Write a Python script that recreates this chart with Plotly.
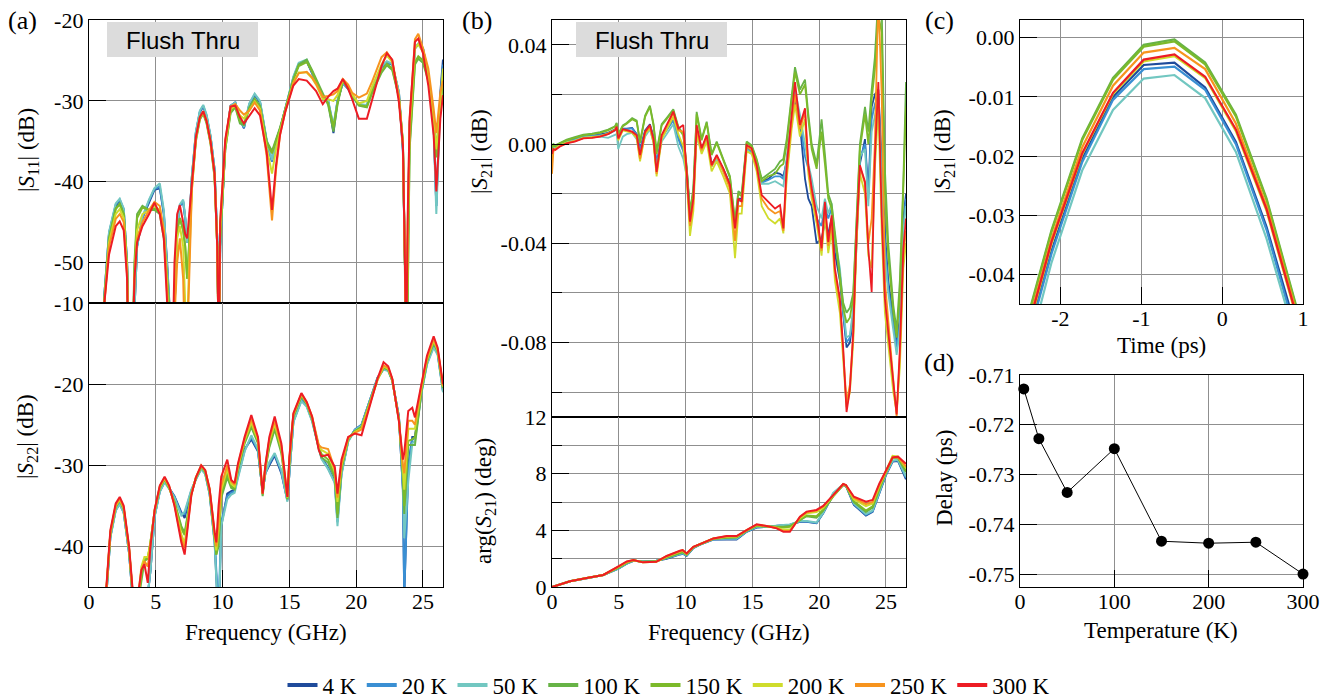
import plotly.graph_objects as go

W, H = 1337, 698
SERIF = "Liberation Serif"
SANS = "Liberation Sans"

temps = ["4 K", "20 K", "50 K", "100 K", "150 K", "200 K", "250 K", "300 K"]
colors = ["#1f4b9b", "#3a8fd3", "#72c7c1", "#67b346", "#7cba2a", "#cfdc2c", "#f7941e", "#ed1c24"]

# ---------------- (a) |S11| ----------------
f11 = [1.0, 1.15, 1.5, 2.0, 2.3, 2.6, 2.85, 2.95, 3.25, 3.4,
       3.6, 4.0, 4.5, 4.9, 5.3, 5.6, 5.85, 5.95, 6.25, 6.4,
       6.6, 6.8, 7.05, 7.2, 7.35, 7.5, 7.7, 8.0, 8.3, 8.55,
       8.8, 9.1, 9.4, 9.6, 9.72, 9.82, 10.2, 10.6, 10.95, 11.3,
       11.6, 12.0, 12.4, 12.8, 13.3, 13.7, 14.0, 14.3, 14.7, 15.3,
       15.7, 16.3, 16.7, 17.0, 17.5, 17.9, 18.3, 18.6, 19.0, 19.4,
       19.7, 20.2, 20.8, 21.2, 21.9, 22.3, 22.7, 23.2, 23.5, 23.65,
       23.75, 23.85, 24.0, 24.4, 24.65, 25.0, 25.4, 25.8, 26.0, 26.3,
       26.5]
s11_4k = [-62, -54, -46.5, -43, -42.3, -43.5, -50, -58, -62, -55,
          -48, -44.5, -42.5, -41, -40.8, -44, -50, -53, -62, -56,
          -46, -43, -42.5, -44.5, -47.5, -45.5, -39.5, -34, -31.4, -30.7,
          -31.9, -34.5, -38.5, -47, -62, -48, -35.5, -30.6, -30.2, -32.3,
          -33.4, -30.5, -29.3, -30.2, -35, -37.5, -35, -33.5, -31, -27.2,
          -25.5, -25.1, -26.6, -27.7, -29.6, -30, -34, -30, -27.8, -28.5,
          -29.5, -30.5, -30.6, -28.5, -25.8, -25.3, -25.5, -29, -36.3, -50,
          -62, -50, -33, -23.5, -23, -23.5, -27, -33, -43, -29, -24.9]
s11_20k = [-62, -54, -46.3, -42.8, -42.2, -43.4, -50, -58, -62, -55,
           -48, -44.5, -42.3, -40.9, -40.6, -43.8, -50, -53, -62, -56,
           -46, -43, -42.4, -44.5, -47.5, -45.5, -39.4, -33.9, -31.3, -30.6,
           -31.8, -34.4, -38.5, -47, -62, -48, -35.5, -30.6, -30.2, -32.3,
           -33.3, -30.4, -29.2, -30.1, -35, -37.5, -35, -33.5, -31, -27.1,
           -25.4, -25, -26.5, -27.6, -29.5, -30, -33.2, -30, -27.8, -28.5,
           -29.4, -30.5, -30.6, -28.5, -25.8, -25.2, -25.5, -29, -36, -50,
           -62, -50, -33, -23.5, -23, -23.5, -27, -33, -43, -29.5, -25.5]
s11_50k = [-62, -54, -46.2, -42.7, -42.1, -43.3, -50, -58, -62, -55,
           -48, -44.3, -42.2, -40.8, -40.2, -43.5, -50, -53, -62, -56,
           -46, -42.8, -42.2, -44.3, -47.5, -45.5, -39.3, -33.8, -31.2, -30.5,
           -31.7, -34.3, -38.5, -47, -62, -48, -35.5, -30.6, -30.2, -32.3,
           -33.2, -30.3, -29.1, -30, -34.8, -37.3, -35, -33.5, -31, -27,
           -25.3, -24.9, -26.4, -27.5, -29.4, -30, -33, -30, -27.7, -28.4,
           -29.4, -30.4, -30.5, -28.4, -25.7, -25.1, -25.4, -28.9, -35.5, -50,
           -62, -50, -33, -23.4, -22.9, -23.4, -26.9, -33.5, -44, -30.5, -27]
s11_100k = [-62, -54.5, -47, -43.3, -42.7, -44, -50.5, -58, -62, -50,
            -44, -43, -43.5, -43.5, -44, -47, -52, -56, -62, -54,
            -46, -44.5, -46, -48, -52, -48, -40.5, -35, -32.3, -31.6,
            -32.8, -35.3, -39.5, -48, -62, -47, -36, -31.5, -30.8, -32.8,
            -33, -30.8, -29.7, -30.6, -35, -36.2, -34.8, -33.3, -31, -27.3,
            -25.5, -24.9, -26.2, -27.3, -29.2, -30.5, -33.8, -30.5, -27.5, -28.4,
            -29.3, -30.6, -30.8, -29, -26.5, -25.6, -26.2, -29.6, -35, -50,
            -62, -56, -36, -25.5, -24.8, -25.3, -27.5, -32, -36, -31, -27]
s11_150k = [-62, -54.5, -47, -43.4, -42.8, -44, -50.5, -58, -62, -51,
            -44.5, -43.2, -43.5, -43.3, -43.8, -46.5, -52, -56, -62, -54,
            -46, -44.5, -46, -48, -52, -47.5, -40.3, -34.8, -32.2, -31.5,
            -32.6, -35.2, -39.3, -48, -62, -47, -36, -31.3, -30.7, -32.5,
            -32.8, -31, -29.9, -30.8, -35.2, -36.5, -35, -33.5, -31, -27.4,
            -25.7, -25.2, -26.4, -27.5, -29.4, -30.3, -33.2, -30.3, -27.5, -28.4,
            -29.3, -30.5, -30.7, -28.8, -26.3, -25.4, -26, -29.5, -35.2, -50,
            -62, -55, -35.5, -25.2, -24.5, -25, -27.3, -32, -37, -31, -27]
s11_200k = [-62, -55, -47.5, -44, -43.4, -44.5, -51, -60, -62, -52,
            -46, -44, -43.5, -43, -43.5, -46, -53, -58, -62, -55,
            -47, -45.5, -48, -55, -58, -50, -41, -34.8, -32.1, -31.4,
            -32.5, -35.1, -39.2, -48, -62, -46, -35.5, -31, -30.6, -31.8,
            -32.2, -31.2, -30.1, -31, -35.8, -39, -36, -33.8, -31.2, -27.8,
            -26.5, -26.5, -27.2, -28, -29.8, -29.8, -30, -29.3, -27.4, -28.3,
            -29.2, -30.3, -30, -28.2, -25.5, -24.4, -25.2, -29.6, -35.3, -50,
            -62, -50, -33.5, -23.5, -23, -24, -27, -32.5, -36, -30.5, -26]
s11_250k = [-62, -55, -48, -44.6, -44, -45, -51.5, -62, -62, -52,
            -47, -45, -43.5, -42.5, -43, -46, -54, -60, -62, -56,
            -50, -47, -52, -62, -60, -52, -41, -34.6, -32, -31.3,
            -32.5, -35, -39, -48, -62, -45, -35, -30.7, -30.4, -31.2,
            -31.7, -31.2, -30.2, -31.2, -36.8, -44.8, -38.5, -34.2, -31.3, -27.8,
            -26.6, -26.4, -27.1, -27.9, -29.5, -29.4, -29.2, -28.8, -27.3, -28,
            -29, -29.6, -29.1, -27.6, -24.6, -24, -25, -29.5, -35.4, -50,
            -62, -47, -32.5, -22.4, -21.7, -23.5, -26, -31, -34, -29, -27.5]
s11_300k = [-62, -55, -49, -45.5, -44.9, -46, -52, -62, -62, -52,
            -47.5, -45.5, -44, -42.6, -44, -47, -55, -62, -62, -50,
            -44, -42.9, -45, -46.5, -47, -44, -39.8, -34.5, -32, -31.3,
            -32.5, -35, -39, -48, -62, -45, -34.8, -30.7, -30.6, -32,
            -32.8, -31.8, -30.9, -31.8, -36.3, -43.5, -38, -34.2, -31.3, -28.1,
            -27.3, -27.5, -28.2, -28.8, -30.4, -29.5, -28.8, -28.5, -27.3, -28.5,
            -29.8, -32.2, -32.2, -29.8, -25.7, -24.1, -24.9, -30.2, -35.5, -50,
            -62, -45, -32.2, -22.7, -22.3, -24.1, -28.1, -34.2, -41.2, -32.2, -29.3]

# ---------------- (a) |S22| ----------------
f22 = [1.2, 1.3, 1.6, 2.0, 2.3, 2.6, 3.0, 3.3, 3.67, 3.92,
       4.15, 4.4, 4.6, 4.92, 5.3, 5.66, 6.0, 6.4, 6.91, 7.16,
       7.4, 7.66, 8.0, 8.4, 8.7, 9.03, 9.41, 9.53, 9.7, 9.9,
       10.35, 10.65, 10.9, 11.15, 11.65, 12.15, 12.65, 13.0, 13.2, 13.5,
       13.9, 14.4, 14.85, 15.0, 15.3, 15.9, 16.3, 16.7, 17.2, 17.4,
       17.9, 18.4, 18.6, 18.9, 19.4, 19.9, 20.4, 20.8, 21.2, 21.6,
       22.05, 22.4, 22.7, 23.2, 23.5, 23.6, 23.9, 24.2, 24.4, 24.9,
       25.3, 25.8, 26.1, 26.5]
s22_4k = [-50, -46, -38.8, -35.5, -34.7, -35.8, -40.8, -47, -50, -50,
          -48, -46, -43, -36.2, -33.2, -32, -32.8, -33.8, -35.8, -36.5,
          -34.8, -33.2, -31.7, -30.4, -31, -33.5, -39.5, -43, -50, -37.5,
          -33.5, -33.2, -33, -31.2, -28, -26.8, -28.3, -33.3, -31, -30,
          -28.8, -31, -34.3, -31, -24.6, -21.9, -22.6, -24.4, -27.8, -29,
          -30.3, -32, -36.8, -31, -27, -25.6, -25, -23, -21, -19.2,
          -18.1, -18.3, -19.5, -24, -33, -46, -30, -26.5, -26.5, -20.8,
          -17.4, -15.3, -16.2, -20.8]
s22_20k = [-50, -46, -38.8, -35.5, -34.7, -35.8, -40.8, -47, -50, -50,
           -48, -46, -43, -36.2, -33.2, -32, -32.8, -33.9, -36, -36,
           -34.6, -33.1, -31.7, -30.4, -31, -33.5, -39.5, -43, -48, -37,
           -33.8, -33.4, -33.2, -31.4, -28.2, -26.5, -28.2, -33.3, -31, -29.8,
           -28.6, -30.8, -34.3, -31, -24.6, -22, -22.7, -24.5, -27.9, -29.1,
           -30.4, -32.1, -37, -31, -27, -25.6, -25, -23, -21, -19.2,
           -18.1, -18.3, -19.5, -24, -33, -46, -30.5, -26.8, -26.8, -20.9,
           -17.5, -15.3, -16.2, -20.9]
s22_50k = [-50, -46, -38.9, -35.6, -34.8, -35.9, -40.9, -47, -50, -50,
           -48, -46, -43, -36.3, -33.3, -32.1, -32.9, -34, -36.2, -35.7,
           -34.4, -33, -31.8, -30.5, -31.1, -33.6, -39.8, -44, -50, -37.5,
           -34.2, -33.6, -33.4, -31.6, -28.3, -26.3, -28, -33.2, -31, -29.6,
           -28.5, -30.6, -34.5, -31, -24.7, -22.1, -22.8, -24.6, -28, -29.2,
           -30.5, -32.2, -37.5, -31.2, -27.1, -25.7, -25.1, -23.1, -21.1, -19.3,
           -18.2, -18.4, -19.6, -24.2, -32, -39, -32, -27.3, -27, -21,
           -17.6, -15.5, -16.4, -21]
s22_100k = [-50, -45.5, -38.4, -35.1, -34.3, -35.4, -40.4, -46.5, -47, -44,
            -41.8, -41.5, -39.5, -35.6, -32.8, -31.7, -32.8, -34.5, -37.5, -38.3,
            -36, -33.5, -31.6, -30.2, -30.8, -33.2, -39, -41, -40, -34,
            -31.5, -32.8, -33, -30.6, -27.3, -25.3, -27.3, -33.8, -30.5, -27.8,
            -25.6, -28.5, -34.2, -29.8, -24, -21.5, -22.4, -24.3, -28, -29,
            -29.7, -31.5, -36.5, -30.5, -26.8, -25.8, -25.3, -23.3, -21.2, -19.4,
            -18, -18.2, -19.5, -24.3, -31.5, -36, -27.5, -27.5, -27.5, -20.8,
            -17.2, -14.9, -16, -20.5]
s22_150k = [-50, -45.5, -38.4, -35.1, -34.3, -35.4, -40.4, -46.5, -47, -43.5,
            -41.6, -41.5, -39.5, -35.6, -32.8, -31.7, -32.8, -34.6, -37.8, -38.6,
            -36.2, -33.5, -31.6, -30.2, -30.8, -33.2, -39, -41, -39, -33.5,
            -31, -32.6, -32.8, -30.4, -27.1, -25, -27.1, -33.6, -30.3, -27.5,
            -25.2, -28.2, -34.1, -29.6, -23.9, -21.4, -22.4, -24.2, -27.8, -28.6,
            -29.3, -31.2, -36, -30.3, -26.8, -25.8, -25.3, -23.4, -21.3, -19.4,
            -17.9, -18.2, -19.5, -24.3, -31, -35, -27, -26.8, -26.5, -20.6,
            -17.1, -14.8, -15.9, -20.4]
s22_200k = [-50, -45.3, -38.3, -35, -34.2, -35.3, -40.3, -46.5, -46.5, -42.5,
            -41.3, -41.3, -39.5, -35.5, -32.7, -31.6, -32.7, -34.8, -38.5, -39.6,
            -36.8, -33.6, -31.5, -30.1, -30.7, -33, -38.7, -40.5, -38, -33,
            -30.5, -32.3, -32.6, -30.2, -26.9, -24.7, -26.9, -33.5, -30.2, -27,
            -24.9, -27.9, -34, -29.4, -23.8, -21.3, -22.3, -24.1, -27.7, -28.1,
            -28.6, -30.8, -34.5, -30, -26.7, -25.9, -25.5, -23.5, -21.4, -19.5,
            -17.8, -18.1, -19.4, -24.4, -30.5, -33, -25.5, -25.5, -25.5, -20.3,
            -17, -14.6, -15.8, -20.3]
s22_250k = [-50, -45.2, -38.2, -34.9, -34.1, -35.2, -40.2, -46.3, -46.5, -43,
            -41.8, -42.5, -39.8, -35.5, -32.6, -31.5, -32.6, -34.9, -39, -40.2,
            -37.2, -33.6, -31.5, -30, -30.6, -32.9, -38.5, -40, -37, -32.5,
            -30, -32, -32.4, -30, -26.7, -24.3, -26.7, -33.5, -30.1, -26.8,
            -24.5, -27.6, -33.9, -29.2, -23.7, -21.2, -22.3, -24, -27.5, -27.8,
            -28, -30.5, -34, -29.8, -26.6, -26, -25.6, -23.7, -21.5, -19.4,
            -17.7, -18, -19.4, -24.5, -30, -31, -24.5, -24.5, -25, -20,
            -16.8, -14.4, -15.7, -20.2]
s22_300k = [-50, -45, -38, -34.7, -33.9, -35, -40, -46, -46, -42.9,
            -42.2, -44.5, -40, -35.4, -32.5, -31.4, -32.5, -35, -39.5, -41,
            -37.5, -33.7, -31.5, -30, -30.6, -32.9, -38.3, -39.5, -35, -31.4,
            -29.3, -31.8, -32.2, -29.8, -26.5, -23.8, -26.5, -33.5, -30, -26.5,
            -24, -27.3, -33.9, -29, -23.6, -21.1, -22.2, -24, -28.1, -28.9,
            -28.7, -30.2, -33.5, -29.3, -26.5, -26.1, -26.3, -24, -21.6, -19.3,
            -17.3, -17.8, -19.3, -24.6, -29.3, -28.5, -23.3, -22.9, -24.1, -19.6,
            -16.5, -14.1, -15.5, -20]

# ---------------- (b) |S21| ----------------
f21 = [0.0, 0.1, 0.25, 0.6, 1.1, 1.7, 2.35, 3.0, 3.6, 4.2,
       4.72, 4.84, 4.96, 5.3, 5.59, 6.0, 6.34, 6.59, 6.97, 7.33,
       7.6, 7.83, 8.21, 8.58, 9.08, 9.46, 9.83, 10.08, 10.33, 10.58,
       10.83, 11.2, 11.58, 11.95, 12.33, 12.82, 13.32, 13.7, 13.95, 14.2,
       14.57, 14.95, 15.32, 15.7, 16.2, 16.7, 17.07, 17.32, 17.57, 17.94,
       18.19, 18.56, 18.94, 19.19, 19.44, 19.81, 20.18, 20.43, 20.68, 20.93,
       21.18, 21.55, 21.8, 22.05, 22.3, 22.55, 22.8, 23.05, 23.43, 23.68,
       23.93, 24.17, 24.43, 24.68, 24.92, 25.17, 25.55, 25.8, 26.04, 26.3,
       26.5]
s21_4k = [-0.002, -0.0005, -0.001, 0.0, 0.0012, 0.002, 0.003, 0.0033, 0.0038, 0.0045,
          0.006, 0.0065, 0.003, 0.0062, 0.0062, 0.0065, 0.004, -0.002, 0.0055, 0.008,
          0.003, -0.008, 0.003, 0.006, 0.01, 0.003, -0.002, -0.01, -0.028, -0.02,
          0.005, -0.002, 0.003, -0.008, -0.005, -0.01, -0.016, -0.033, -0.022, -0.022,
          -0.001, -0.003, -0.007, -0.015, -0.014, -0.0115, -0.012, -0.013, -0.007, 0.008,
          0.018, 0.008, -0.014, -0.022, -0.025, -0.04, -0.038, -0.032, -0.036, -0.03,
          -0.044, -0.055, -0.07, -0.082, -0.08, -0.07, -0.04, -0.008, 0.002, -0.02,
          0.015, 0.02, 0.022, -0.01, -0.035, -0.055, -0.07, -0.08, -0.07, -0.03,
          -0.02]
s21_20k = [-0.002, -0.0005, -0.001, 0.0, 0.0012, 0.002, 0.003, 0.0033, 0.0036, 0.004,
           0.0055, 0.006, 0.0025, 0.006, 0.006, 0.0063, 0.0038, -0.0025, 0.005, 0.0075,
           0.0025, -0.008, 0.0025, 0.0055, 0.0095, 0.002, -0.003, -0.011, -0.029, -0.021,
           0.0045, -0.0025, 0.0025, -0.0085, -0.0055, -0.0105, -0.0165, -0.0335, -0.0225, -0.0225,
           -0.0015, -0.0035, -0.0075, -0.0155, -0.0145, -0.013, -0.013, -0.014, -0.0065, 0.009,
           0.02, 0.01, -0.005, -0.01, -0.016, -0.03, -0.033, -0.025, -0.03, -0.026,
           -0.04, -0.052, -0.068, -0.08, -0.078, -0.068, -0.038, -0.006, 0.0, -0.022,
           0.01, 0.016, 0.02, -0.012, -0.04, -0.058, -0.072, -0.082, -0.072, -0.032,
           -0.022]
s21_50k = [-0.003, -0.001, -0.0015, -0.0005, 0.0008, 0.0015, 0.0027, 0.003, 0.003, 0.0025,
           0.0035, 0.004, -0.002, 0.003, 0.004, 0.0045, 0.002, -0.004, 0.003, 0.006,
           0.0005, -0.01, 0.001, 0.004, 0.008, -0.001, -0.006, -0.013, -0.03, -0.022,
           0.003, -0.003, 0.002, -0.009, -0.006, -0.011, -0.017, -0.034, -0.023, -0.023,
           -0.002, -0.004, -0.008, -0.016, -0.016, -0.015, -0.016, -0.017, -0.006, 0.012,
           0.022, 0.012, 0.0, -0.008, -0.014, -0.025, -0.03, -0.022, -0.028, -0.024,
           -0.038, -0.05, -0.066, -0.078, -0.077, -0.066, -0.036, -0.005, -0.002, -0.025,
           0.005, 0.012, 0.018, -0.015, -0.045, -0.06, -0.075, -0.085, -0.075, -0.035,
           -0.025]
s21_100k = [-0.001, 0.0, -0.0005, 0.0005, 0.0018, 0.0028, 0.0038, 0.0042, 0.0048, 0.0058,
            0.0072, 0.0085, 0.004, 0.0075, 0.0085, 0.0105, 0.0095, 0.001, 0.0115, 0.0155,
            0.008, -0.003, 0.008, 0.0105, 0.014, 0.007, 0.004, -0.009, -0.027, -0.018,
            0.013, 0.002, 0.009, -0.004, 0.001, -0.006, -0.013, -0.031, -0.019, -0.02,
            0.001, -0.0005, -0.006, -0.014, -0.012, -0.01, -0.007, -0.006, 0.002, 0.02,
            0.031, 0.022, 0.026, 0.012, 0.0, -0.008, 0.01, -0.004, -0.02, -0.024,
            -0.036, -0.052, -0.064, -0.068, -0.066, -0.06, -0.028, 0.0, 0.015, 0.005,
            0.022, 0.035, 0.06, 0.055, -0.01, -0.04, -0.065, -0.075, -0.055, -0.015,
            0.025]
s21_150k = [-0.002, -0.0005, -0.001, 0.0003, 0.0015, 0.0025, 0.0035, 0.004, 0.0045, 0.0055,
            0.007, 0.0082, 0.0038, 0.0072, 0.0082, 0.01, 0.009, 0.0005, 0.011, 0.015,
            0.0075, -0.004, 0.0075, 0.01, 0.0135, 0.0065, 0.0035, -0.0095, -0.028, -0.019,
            0.012, 0.0015, 0.0085, -0.0045, 0.0005, -0.0065, -0.0135, -0.032, -0.02, -0.021,
            0.0005, -0.001, -0.0065, -0.015, -0.013, -0.012, -0.009, -0.008, 0.0, 0.018,
            0.029, 0.02, 0.024, 0.01, -0.002, -0.01, 0.005, -0.008, -0.022, -0.026,
            -0.038, -0.054, -0.066, -0.072, -0.07, -0.062, -0.03, -0.002, 0.012, 0.0,
            0.018, 0.03, 0.052, 0.045, -0.02, -0.045, -0.068, -0.078, -0.06, -0.02,
            0.015]
s21_200k = [-0.006, -0.002, -0.002, -0.0005, 0.0006, 0.0013, 0.0025, 0.0028, 0.0032, 0.0042,
            0.0058, 0.0068, 0.0015, 0.0055, 0.0052, 0.0045, 0.0025, -0.007, 0.004, 0.0065,
            0.0005, -0.013, 0.002, 0.006, 0.011, 0.004, -0.001, -0.014, -0.037, -0.027,
            0.004, -0.004, 0.001, -0.011, -0.007, -0.013, -0.02, -0.046, -0.028, -0.028,
            -0.003, -0.004, -0.011, -0.025, -0.03, -0.032, -0.03, -0.036, -0.014, 0.006,
            0.016, 0.003, 0.01, -0.012, -0.022, -0.032, -0.045, -0.028, -0.044, -0.035,
            -0.055, -0.068, -0.088, -0.106, -0.1, -0.08, -0.04, -0.012, -0.02, -0.045,
            -0.05, -0.01, 0.015, -0.035, -0.068, -0.08, -0.1, -0.108, -0.09, -0.05,
            -0.04]
s21_250k = [-0.012, -0.003, -0.002, -0.0008, 0.0004, 0.0012, 0.0024, 0.0026, 0.0031, 0.0041,
            0.0057, 0.0068, 0.002, 0.0058, 0.0055, 0.0048, 0.003, -0.006, 0.0045, 0.007,
            0.0012, -0.012, 0.003, 0.007, 0.0125, 0.0055, 0.005, -0.012, -0.033, -0.024,
            0.006, -0.0025, 0.003, -0.009, -0.005, -0.011, -0.018, -0.039, -0.025, -0.025,
            -0.001, -0.0025, -0.0095, -0.022, -0.026, -0.028, -0.027, -0.035, -0.012, 0.009,
            0.02, 0.006, 0.013, -0.01, -0.02, -0.03, -0.043, -0.025, -0.041, -0.031,
            -0.052, -0.064, -0.085, -0.104, -0.097, -0.077, -0.037, -0.009, -0.016, -0.04,
            -0.03, 0.0, 0.06, 0.02, -0.055, -0.072, -0.095, -0.11, -0.085, -0.045,
            -0.035]
s21_300k = [-0.004, -0.002, -0.0024, -0.001, 0.0003, 0.001, 0.0023, 0.0025, 0.003, 0.004,
            0.0056, 0.007, 0.0023, 0.006, 0.0056, 0.005, 0.0036, -0.0044, 0.005, 0.0077,
            0.002, -0.0112, 0.0036, 0.0077, 0.0131, 0.0063, 0.0077, -0.0112, -0.0313, -0.022,
            0.0077, -0.0017, 0.0036, -0.0085, -0.0044, -0.0098, -0.0165, -0.034, -0.022, -0.0233,
            -0.0004, -0.0017, -0.0085, -0.0206, -0.0233, -0.026, -0.0246, -0.034, -0.0085, 0.0117,
            0.025, 0.0077, 0.0144, -0.0085, -0.0179, -0.0287, -0.042, -0.0233, -0.0394, -0.0287,
            -0.0502, -0.0623, -0.0825, -0.108, -0.099, -0.0758, -0.0354, -0.0085, -0.0152, -0.042,
            -0.0596, -0.0058, 0.025, -0.0287, -0.0623, -0.0758, -0.096, -0.109, -0.0825, -0.042,
            -0.03]

# ---------------- (b) arg(S21) ----------------
fph = [0.0, 1.35, 2.6, 3.84, 4.97, 5.6, 6.1, 6.8, 7.8, 8.58,
       9.58, 9.78, 10.08, 10.58, 11.08, 12.08, 13.07, 13.82, 14.57, 15.32,
       16.07, 16.82, 17.32, 17.81, 18.56, 19.06, 19.8, 20.3, 21.05, 21.8,
       22.0, 22.6, 23.5, 24.0, 24.5, 25.0, 25.5, 25.9, 26.5]
ph_4k = [0, 0.4, 0.62, 0.84, 1.3, 1.65, 1.85, 1.8, 1.85, 2.0,
         2.3, 2.35, 2.2, 2.75, 3.0, 3.35, 3.35, 3.35, 3.9, 4.2,
         4.25, 4.3, 4.35, 4.4, 4.6, 4.6, 4.5, 5.2, 6.55, 7.2,
         7.15, 5.8, 5.05, 5.3, 6.6, 7.9, 8.85, 8.9, 7.6]
ph_20k = [0, 0.4, 0.62, 0.84, 1.3, 1.66, 1.85, 1.8, 1.85, 2.02,
          2.32, 2.37, 2.22, 2.76, 3.0, 3.36, 3.38, 3.38, 3.92, 4.22,
          4.25, 4.3, 4.35, 4.4, 4.62, 4.62, 4.52, 5.22, 6.6, 7.22,
          7.17, 5.85, 5.1, 5.35, 6.65, 7.95, 8.9, 8.95, 7.7]
ph_50k = [0, 0.4, 0.62, 0.84, 1.32, 1.68, 1.86, 1.8, 1.84, 2.05,
          2.35, 2.4, 2.25, 2.78, 3.0, 3.38, 3.42, 3.42, 3.94, 4.25,
          4.26, 4.3, 4.38, 4.42, 4.65, 4.65, 4.55, 5.25, 6.65, 7.25,
          7.2, 5.9, 5.15, 5.4, 6.7, 8.0, 8.92, 8.98, 7.8]
ph_100k = [0, 0.4, 0.63, 0.85, 1.35, 1.7, 1.87, 1.78, 1.82, 2.08,
           2.4, 2.45, 2.28, 2.8, 3.02, 3.4, 3.48, 3.5, 3.96, 4.3,
           4.27, 4.25, 4.25, 4.3, 4.7, 5.0, 4.9, 5.4, 6.4, 7.2,
           7.15, 6.0, 5.3, 5.6, 6.9, 8.1, 9.1, 9.1, 8.1]
ph_150k = [0, 0.4, 0.63, 0.85, 1.38, 1.72, 1.88, 1.77, 1.81, 2.1,
           2.45, 2.5, 2.3, 2.8, 3.02, 3.4, 3.5, 3.52, 3.98, 4.33,
           4.28, 4.22, 4.2, 4.25, 4.75, 5.05, 5.0, 5.45, 6.42, 7.22,
           7.17, 6.05, 5.4, 5.7, 6.95, 8.12, 9.2, 9.15, 8.2]
ph_200k = [0, 0.4, 0.63, 0.85, 1.42, 1.76, 1.89, 1.75, 1.79, 2.15,
           2.5, 2.56, 2.34, 2.82, 3.03, 3.42, 3.55, 3.56, 4.0, 4.38,
           4.29, 4.18, 4.05, 4.05, 4.85, 5.2, 5.3, 5.6, 6.45, 7.25,
           7.18, 6.2, 5.7, 5.9, 7.1, 8.15, 9.25, 9.2, 8.4]
ph_250k = [0, 0.4, 0.63, 0.85, 1.44, 1.78, 1.9, 1.74, 1.78, 2.17,
           2.54, 2.6, 2.36, 2.83, 3.03, 3.43, 3.58, 3.58, 4.01, 4.4,
           4.3, 4.16, 3.95, 3.95, 4.92, 5.28, 5.4, 5.68, 6.47, 7.26,
           7.2, 6.3, 5.85, 6.0, 7.2, 8.18, 9.15, 9.15, 8.5]
ph_300k = [0.0, 0.4, 0.63, 0.85, 1.45, 1.8, 1.9, 1.74, 1.78, 2.19,
           2.56, 2.61, 2.37, 2.84, 3.03, 3.43, 3.6, 3.6, 4.02, 4.42,
           4.3, 4.14, 3.9, 3.9, 4.96, 5.32, 5.44, 5.72, 6.49, 7.27,
           7.2, 6.37, 6.02, 6.14, 7.3, 8.2, 9.15, 9.2, 8.7]

# ---------------- (c) time domain ----------------
t_ps = [-2.49, -2.11, -1.73, -1.35, -0.97, -0.59, -0.21, 0.17, 0.55, 0.93, 1.31]
td_4k = [-0.055, -0.036, -0.0205, -0.0100, -0.0046, -0.0042, -0.0084, -0.0176, -0.032, -0.050, -0.074]
td_20k = [-0.0555, -0.0365, -0.021, -0.0105, -0.0053, -0.0049, -0.0088, -0.018, -0.0325, -0.051, -0.075]
td_50k = [-0.058, -0.038, -0.0224, -0.0122, -0.0069, -0.0063, -0.0102, -0.0193, -0.034, -0.052, -0.076]
td_100k = [-0.0515, -0.0325, -0.0170, -0.0068, -0.0012, -0.0003, -0.0042, -0.0130, -0.0272, -0.0460, -0.070]
td_150k = [-0.0518, -0.0328, -0.0173, -0.0071, -0.0015, -0.0006, -0.0045, -0.0133, -0.0275, -0.0463, -0.0703]
td_200k = [-0.054, -0.0348, -0.0197, -0.0095, -0.0040, -0.0031, -0.0068, -0.0158, -0.0293, -0.0478, -0.072]
td_250k = [-0.053, -0.034, -0.0185, -0.0081, -0.0025, -0.0017, -0.0053, -0.0145, -0.0285, -0.047, -0.071]
td_300k = [-0.0535, -0.0345, -0.0195, -0.0093, -0.0037, -0.0028, -0.0066, -0.0155, -0.029, -0.0475, -0.0715]

# ---------------- (d) delay ----------------
temp_k = [4, 20, 50, 100, 150, 200, 250, 300]
delay_ps = [-0.7128, -0.7228, -0.7336, -0.7248, -0.7434, -0.7438, -0.7436, -0.7500]

s11_all = [s11_4k, s11_20k, s11_50k, s11_100k, s11_150k, s11_200k, s11_250k, s11_300k]
s22_all = [s22_4k, s22_20k, s22_50k, s22_100k, s22_150k, s22_200k, s22_250k, s22_300k]
s21_all = [s21_4k, s21_20k, s21_50k, s21_100k, s21_150k, s21_200k, s21_250k, s21_300k]
ph_all = [ph_4k, ph_20k, ph_50k, ph_100k, ph_150k, ph_200k, ph_250k, ph_300k]
td_all = [td_4k, td_20k, td_50k, td_100k, td_150k, td_200k, td_250k, td_300k]


def PX(x):
    return x / W


def PY(y):
    return 1 - y / H


fig = go.Figure()

for i in range(8):
    c = colors[i]
    fig.add_trace(go.Scatter(x=f11, y=s11_all[i], mode="lines", line=dict(color=c, width=2),
                             xaxis="x", yaxis="y", showlegend=False))
    fig.add_trace(go.Scatter(x=f22, y=s22_all[i], mode="lines", line=dict(color=c, width=2),
                             xaxis="x2", yaxis="y2", showlegend=False))
    fig.add_trace(go.Scatter(x=f21, y=s21_all[i], mode="lines", line=dict(color=c, width=1.8),
                             xaxis="x3", yaxis="y3", showlegend=False))
    fig.add_trace(go.Scatter(x=fph, y=ph_all[i], mode="lines", line=dict(color=c, width=2),
                             xaxis="x4", yaxis="y4", showlegend=False))
    fig.add_trace(go.Scatter(x=t_ps, y=td_all[i], mode="lines", line=dict(color=c, width=2.2),
                             xaxis="x5", yaxis="y5", showlegend=False))

fig.add_trace(go.Scatter(x=temp_k, y=delay_ps, mode="lines+markers",
                         line=dict(color="black", width=1),
                         marker=dict(color="black", size=11),
                         cliponaxis=False, xaxis="x6", yaxis="y6", showlegend=False))

# legend entries
for i in range(8):
    fig.add_trace(go.Scatter(x=[None], y=[None], mode="lines", name=temps[i],
                             line=dict(color=colors[i], width=4), xaxis="x5", yaxis="y5",
                             showlegend=True))

GRID = "#8f8f8f"
TICKFONT = dict(family=SERIF, size=22, color="black")


def axis(domain, rng, anchor, tickvals=None, ticktext=None, labels=True, ticklen=17,
         ticks="inside", minor_vals=None, is_x=False):
    d = dict(domain=domain, range=rng, anchor=anchor, automargin=False,
             showline=True, linecolor="black",
             linewidth=1.3, mirror=True, showgrid=True, gridcolor=GRID, gridwidth=1,
             zeroline=False, tickfont=TICKFONT, showticklabels=labels,
             ticks=ticks if labels else "", ticklen=ticklen, tickcolor="black", tickwidth=1.3)
    if is_x and labels:
        d["ticklabelstandoff"] = -6
    if tickvals is not None:
        d["tickmode"] = "array"
        d["tickvals"] = tickvals
        if ticktext is not None:
            d["ticktext"] = ticktext
    if minor_vals is not None:
        d["minor"] = dict(tickmode="array", tickvals=minor_vals, ticks="inside", ticklen=10,
                          tickcolor="black", tickwidth=1.3, showgrid=True, gridcolor=GRID,
                          gridwidth=1)
    return d


xa = [PX(89), PX(443)]
xb = [PX(552), PX(906)]
xc = [PX(1020), PX(1303)]
freq_ticks = [0, 5, 10, 15, 20, 25]

fig.update_layout(
    template="none",
    width=W, height=H, margin=dict(l=0, r=0, t=0, b=0, autoexpand=False),
    paper_bgcolor="white", plot_bgcolor="white",
    font=dict(family=SERIF, size=22, color="black"),
    xaxis=axis(xa, [0, 26.5], "y", freq_ticks, labels=False),
    yaxis=axis([PY(303), PY(20)], [-55, -20], "x", [-50, -40, -30, -20],
               ["-50", "-40", "-30", "-20"]),
    xaxis2=axis(xa, [0, 26.5], "y2", freq_ticks, [str(v) for v in freq_ticks], is_x=True),
    yaxis2=axis([PY(587), PY(303)], [-45, -10], "x2", [-40, -30, -20, -10],
                ["-40", "-30", "-20", "-10"]),
    xaxis3=axis(xb, [0, 26.5], "y3", freq_ticks, labels=False),
    yaxis3=axis([PY(417), PY(20)], [-0.11, 0.05], "x3", [-0.08, -0.04, 0.0, 0.04],
                ["-0.08", "-0.04", "0.00", "0.04"], minor_vals=[-0.10, -0.06, -0.02, 0.02]),
    xaxis4=axis(xb, [0, 26.5], "y4", freq_ticks, [str(v) for v in freq_ticks], ticks="",
                is_x=True),
    yaxis4=axis([PY(587), PY(417)], [0, 12], "x4", [0, 4, 8, 12], ["0", "4", "8", "12"],
                minor_vals=[2, 6, 10]),
    xaxis5=axis(xc, [-2.5, 1], "y5", [-2, -1, 0, 1], ["-2", "-1", "0", "1"], is_x=True),
    yaxis5=axis([PY(304), PY(20)], [-0.045, 0.003], "x5", [-0.04, -0.03, -0.02, -0.01, 0.0],
                ["-0.04", "-0.03", "-0.02", "-0.01", "0.00"]),
    xaxis6=axis(xc, [0, 300], "y6", [0, 100, 200, 300], ["0", "100", "200", "300"], is_x=True),
    yaxis6=axis([PY(587), PY(375)], [-0.7526, -0.71], "x6",
                [-0.75, -0.74, -0.73, -0.72, -0.71],
                ["-0.75", "-0.74", "-0.73", "-0.72", "-0.71"]),
    legend=dict(orientation="h", x=0.5, xanchor="center", y=PY(685), yanchor="middle",
                font=dict(family=SERIF, size=23, color="black"), itemwidth=30,
                bgcolor="rgba(0,0,0,0)", tracegroupgap=0),
)

ann = []


def txt(x, y, s, size=23, angle=0, family=SERIF):
    ann.append(dict(x=PX(x), y=PY(y), xref="paper", yref="paper", text=s, showarrow=False,
                    textangle=angle, xanchor="center", yanchor="middle",
                    font=dict(family=family, size=size, color="black")))


txt(23, 20, "(a)", 26)
txt(477, 20, "(b)", 26)
txt(939, 20, "(c)", 26)
txt(939, 362, "(d)", 26)

txt(28, 150, "|<i>S</i><sub>11</sub>| (dB)", 23, -90)
txt(27, 437, "|<i>S</i><sub>22</sub>| (dB)", 23, -90)
txt(266, 632, "Frequency (GHz)", 23)
txt(481, 152, "|<i>S</i><sub>21</sub>| (dB)", 23, -90)
txt(485, 501, "arg(<i>S</i><sub>21</sub>) (deg)", 23, -90)
txt(729, 632, "Frequency (GHz)", 23)
txt(944, 152, "|<i>S</i><sub>21</sub>| (dB)", 23, -90)
txt(1161, 345, "Time (ps)", 23)
txt(944, 478, "Delay (ps)", 23, -90)
txt(1161, 630, "Temperature (K)", 23)

txt(182.5, 40, "Flush Thru", 24, 0, SANS)
txt(651.5, 40, "Flush Thru", 24, 0, SANS)

fig.update_layout(
    annotations=ann,
    shapes=[
        dict(type="rect", xref="paper", yref="paper", x0=PX(107), x1=PX(258), y0=PY(57), y1=PY(22),
             fillcolor="#dcdcdc", line=dict(width=0), layer="above"),
        dict(type="rect", xref="paper", yref="paper", x0=PX(576), x1=PX(727), y0=PY(57), y1=PY(22),
             fillcolor="#dcdcdc", line=dict(width=0), layer="above"),
    ],
)

fig.write_html("out.html")
